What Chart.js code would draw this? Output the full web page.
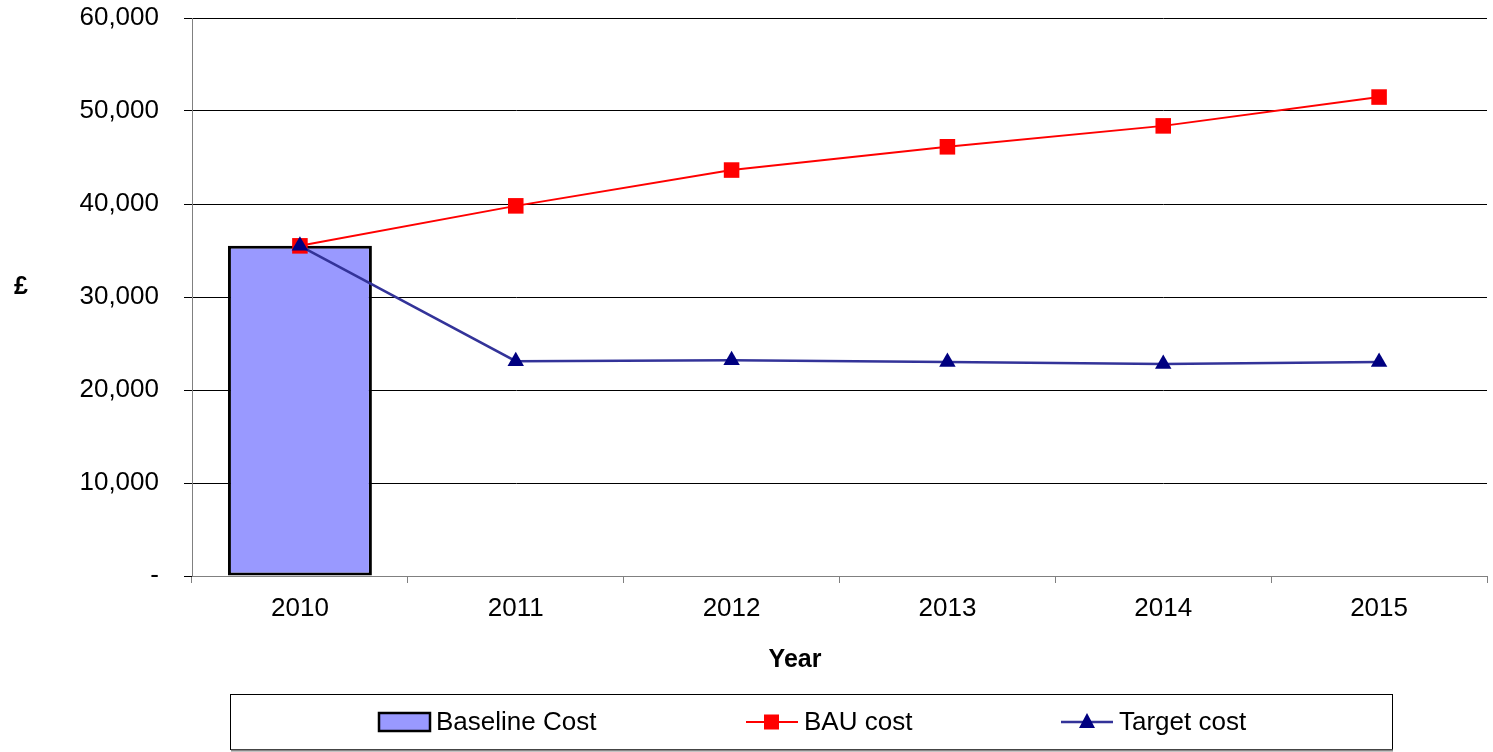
<!DOCTYPE html>
<html>
<head>
<meta charset="utf-8">
<script src="https://cdn.jsdelivr.net/npm/chart.js@4/dist/chart.umd.min.js"></script>
<style>
  html, body { margin: 0; padding: 0; background: #fff; overflow: hidden; }
  #wrap { width: 1493px; height: 752px; position: relative; }
</style>
</head>
<body>
<div id="wrap"><canvas id="costChart"></canvas></div>
<script>
const years = ['2010', '2011', '2012', '2013', '2014', '2015'];
const baselineCost = [35500, null, null, null, null, null];
const bauCost = [35500, 39800, 43650, 46150, 48400, 51500];
const targetCost = [35500, 23100, 23200, 23000, 22800, 23000];

const FONT = "'Liberation Sans', Arial, sans-serif";

// axis titles + legend box, placed like the original spreadsheet chart
const extrasPlugin = {
    id: 'extras',
    afterDraw(chart) {
        const c = chart.ctx;
        const ds = chart.data.datasets;
        c.save();

        // axis titles
        c.fillStyle = '#000';
        c.font = 'bold 25px ' + FONT;
        c.textAlign = 'center';
        c.textBaseline = 'middle';
        c.fillText('£', 21, 287);
        c.fillText('Year', 795, 660);

        // legend frame
        c.strokeStyle = '#000';
        c.lineWidth = 1;
        c.strokeRect(230.5, 694.5, 1162, 55);
        c.strokeStyle = '#888';
        c.lineWidth = 2;
        c.beginPath();
        c.moveTo(231, 750.5);
        c.lineTo(1393, 750.5);
        c.stroke();

        const cy = 722;
        c.font = '26px ' + FONT;
        c.textAlign = 'left';

        // bar item
        c.fillStyle = ds[0].backgroundColor;
        c.fillRect(379, cy - 9, 51, 18);
        c.strokeStyle = '#000';
        c.lineWidth = 2.5;
        c.strokeRect(379, cy - 9, 51, 18);
        c.fillStyle = '#000';
        c.fillText(ds[0].label, 436, cy + 1);

        // BAU item
        c.strokeStyle = ds[1].borderColor;
        c.lineWidth = 2;
        c.beginPath();
        c.moveTo(746, cy);
        c.lineTo(798, cy);
        c.stroke();
        c.fillStyle = ds[1].pointBackgroundColor;
        c.fillRect(764, cy - 7.5, 15, 15);
        c.fillStyle = '#000';
        c.fillText(ds[1].label, 804, cy + 1);

        // Target item
        c.strokeStyle = ds[2].borderColor;
        c.lineWidth = 2.5;
        c.beginPath();
        c.moveTo(1061, cy);
        c.lineTo(1113, cy);
        c.stroke();
        c.fillStyle = ds[2].pointBackgroundColor;
        c.beginPath();
        c.moveTo(1087, cy - 9);
        c.lineTo(1095, cy + 6);
        c.lineTo(1079, cy + 6);
        c.closePath();
        c.fill();
        c.fillStyle = '#000';
        c.fillText(ds[2].label, 1119, cy + 1);

        c.restore();
    }
};

const ctx = document.getElementById('costChart').getContext('2d');

const costChart = new Chart(ctx, {
    type: 'bar',
    data: {
        labels: years,
        datasets: [
            {
                type: 'bar',
                label: 'Baseline Cost',
                data: baselineCost,
                backgroundColor: '#9999FF',
                borderColor: '#000000',
                borderWidth: 3,
                borderSkipped: false,
                barPercentage: 0.667,
                categoryPercentage: 1,
                order: 3
            },
            {
                type: 'line',
                label: 'BAU cost',
                data: bauCost,
                borderColor: '#FF0000',
                borderWidth: 2,
                pointStyle: 'rect',
                pointRadius: 11,
                pointBorderWidth: 0,
                pointBackgroundColor: '#FF0000',
                pointBorderColor: '#FF0000',
                tension: 0,
                order: 2
            },
            {
                type: 'line',
                label: 'Target cost',
                data: targetCost,
                borderColor: '#333399',
                borderWidth: 2.5,
                pointStyle: 'triangle',
                pointRadius: 9.5,
                pointBorderWidth: 0,
                pointBackgroundColor: '#000080',
                pointBorderColor: '#000080',
                tension: 0,
                order: 1
            }
        ]
    },
    options: {
        responsive: true,
        maintainAspectRatio: false,
        animation: false,
        layout: {
            autoPadding: false,
            padding: { top: 18, right: 6, left: 0, bottom: 0 }
        },
        plugins: {
            legend: { display: false },
            tooltip: { enabled: false }
        },
        scales: {
            x: {
                offset: true,
                afterFit: (scale) => {
                    scale.height = 176;
                    scale.paddingLeft = 0;
                    scale.paddingRight = 0;
                },
                grid: {
                    offset: true,
                    drawOnChartArea: false,
                    color: '#808080',
                    tickLength: 7
                },
                border: { color: '#808080', width: 1 },
                ticks: {
                    color: '#000',
                    font: { family: FONT, size: 26 },
                    padding: 10
                }
            },
            y: {
                min: 0,
                max: 60000,
                afterFit: (scale) => {
                    scale.width = 192;
                    scale.paddingTop = 0;
                    scale.paddingBottom = 0;
                },
                grid: {
                    color: (c) => c.tick && c.tick.value === 0 ? '#808080' : '#000000',
                    tickColor: '#000000',
                    tickLength: 8,
                    lineWidth: 1
                },
                border: { color: '#808080', width: 1 },
                ticks: {
                    stepSize: 10000,
                    color: '#000',
                    padding: 25,
                    font: { family: FONT, size: 26 },
                    callback: (v) => v === 0 ? '-' : v.toLocaleString('en-US')
                }
            }
        }
    },
    plugins: [extrasPlugin]
});
</script>
</body>
</html>
